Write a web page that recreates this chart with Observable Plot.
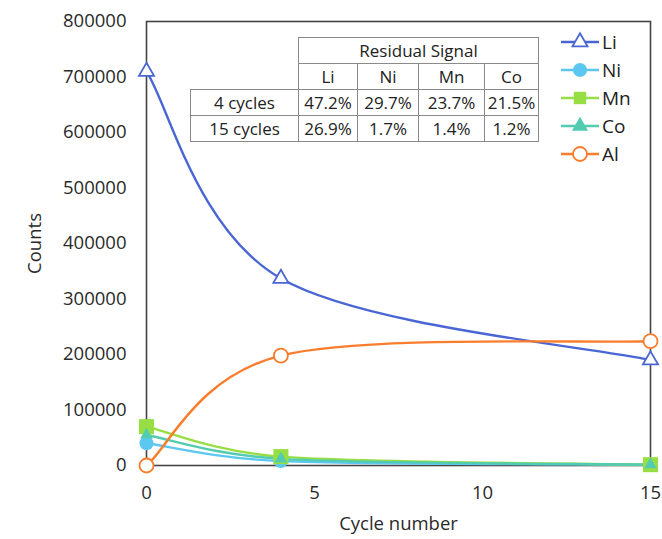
<!DOCTYPE html>
<html>
<head>
<meta charset="utf-8">
<script src="https://cdn.jsdelivr.net/npm/d3@7"></script>
<script src="https://cdn.jsdelivr.net/npm/@observablehq/plot@0.6"></script>
<style>
  html, body { margin: 0; padding: 0; background: #fff; }
  #wrap { position: relative; width: 662px; height: 539px; font-family: "Open Sans", sans-serif; color: #333; }
  #tbl { position: absolute; left: 190px; top: 37px; border-collapse: collapse; font-size: 17px; color: #222; }
  #tbl td { border: 1px solid #8a8a8a; padding: 0; text-align: center; line-height: 24px; height: 25px; background: #fff; white-space: nowrap; }
  #tbl td.blank { border: none; background: transparent; }
  #legend { position: absolute; left: 560px; top: 28px; font-size: 19px; color: #222; }
  #legend .row { display: flex; align-items: center; height: 28px; }
  #legend svg { display: block; margin-right: 2px; }
</style>
</head>
<body>
<div id="wrap"></div>
<script>
// ---- data ----
const cycles = [0, 4, 15];
const seriesNames = ["Li", "Ni", "Mn", "Co", "Al"];
const liCounts = [710000, 337000, 190000];
const niCounts = [40000, 8000, 1500];
const mnCounts = [70000, 16000, 1500];
const coCounts = [55000, 12000, 1500];
const alCounts = [0, 198000, 224000];
const yTicks = [0, 100000, 200000, 300000, 400000, 500000, 600000, 700000, 800000];
const xTicks = [0, 5, 10, 15];

const tableTitle = "Residual Signal";
const tableCols = ["Li", "Ni", "Mn", "Co"];
const tableRows = ["4 cycles", "15 cycles"];
const residual4 = ["47.2%", "29.7%", "23.7%", "21.5%"];
const residual15 = ["26.9%", "1.7%", "1.4%", "1.2%"];

// ---- styles ----
const colors = {Li: "#4a66d4", Ni: "#5cc8f2", Mn: "#97de45", Co: "#52cbb0", Al: "#f97d2c"};
const symbols = {Li: "triangle", Ni: "circle", Mn: "square", Co: "triangle2", Al: "circle"};
const filled = {Li: false, Ni: true, Mn: true, Co: true, Al: false};
const sizes = {Li: 5.6, Ni: 7, Mn: 8.5, Co: 6, Al: 7};

// Spreadsheet-style smoothed line (Bezier with 1/6 tangents, limited on short segments)
function SmoothCurve(context) { this._context = context; }
SmoothCurve.prototype = {
  areaStart() { this._line = 0; },
  areaEnd() { this._line = NaN; },
  lineStart() { this._pts = []; },
  point(x, y) { this._pts.push([+x, +y]); },
  lineEnd() {
    const p = this._pts, n = p.length, c = this._context;
    if (n) {
      if (this._line) c.lineTo(p[0][0], p[0][1]); else c.moveTo(p[0][0], p[0][1]);
      const dist = (a, b) => Math.hypot(b[0] - a[0], b[1] - a[1]);
      for (let i = 0; i < n - 1; i++) {
        const p0 = p[i - 1] || p[i], p1 = p[i], p2 = p[i + 1], p3 = p[i + 2] || p[i + 1];
        const d12 = dist(p1, p2), d02 = dist(p0, p2), d13 = dist(p1, p3);
        let f1 = 1 / 6, f2 = 1 / 6;
        if (d02 / 6 >= d12 / 2 && d02 > 0) f1 = d12 / d02 / 2;
        if (d13 / 6 >= d12 / 2 && d13 > 0) f2 = d12 / d13 / 2;
        c.bezierCurveTo(
          p1[0] + (p2[0] - p0[0]) * f1, p1[1] + (p2[1] - p0[1]) * f1,
          p2[0] - (p3[0] - p1[0]) * f2, p2[1] - (p3[1] - p1[1]) * f2,
          p2[0], p2[1]);
      }
    }
    this._line = 1 - this._line;
  }
};
const smooth = context => new SmoothCurve(context);

const countsBy = {Li: liCounts, Ni: niCounts, Mn: mnCounts, Co: coCounts, Al: alCounts};
const data = seriesNames.flatMap(s => cycles.map((c, i) => ({series: s, cycle: c, count: countsBy[s][i]})));

const marks = [Plot.frame({stroke: "#444", strokeWidth: 1.6})];
for (const s of seriesNames) {
  const d = data.filter(r => r.series === s);
  marks.push(Plot.line(d, {x: "cycle", y: "count", stroke: colors[s], strokeWidth: 2.4, curve: smooth}));
}
for (const s of seriesNames) {
  const d = data.filter(r => r.series === s);
  marks.push(Plot.dot(d, {
    x: "cycle", y: "count", symbol: () => symbols[s], r: sizes[s],
    fill: filled[s] ? colors[s] : "white",
    stroke: filled[s] ? "none" : colors[s], strokeWidth: 1.8
  }));
}

const chart = Plot.plot({
  width: 662, height: 539,
  marginLeft: 146, marginRight: 12, marginTop: 21, marginBottom: 74,
  style: {fontFamily: "Open Sans, sans-serif", fontSize: "18.5px", color: "#2a2a2a", background: "white"},
  symbol: {type: "identity"},
  x: {domain: [0, 15], ticks: xTicks, tickSize: 0, tickPadding: 20, label: "Cycle number", labelAnchor: "center", labelOffset: 64, labelArrow: false},
  y: {domain: [0, 800000], ticks: yTicks, tickSize: 0, tickPadding: 20, tickFormat: d => String(d), label: "Counts", labelAnchor: "center", labelOffset: 119, labelArrow: false},
  marks
});

const wrap = document.getElementById("wrap");
wrap.appendChild(chart);

// ---- table overlay ----
const tbl = document.createElement("table");
tbl.id = "tbl";
const widths = [108, 59, 61, 66, 54];
let html = "<colgroup>" + widths.map(w => `<col style="width:${w}px">`).join("") + "</colgroup>";
html += `<tr><td class="blank"></td><td colspan="4">${tableTitle}</td></tr>`;
html += `<tr><td class="blank"></td>${tableCols.map(c => `<td>${c}</td>`).join("")}</tr>`;
html += `<tr><td>${tableRows[0]}</td>${residual4.map(v => `<td>${v}</td>`).join("")}</tr>`;
html += `<tr><td>${tableRows[1]}</td>${residual15.map(v => `<td>${v}</td>`).join("")}</tr>`;
tbl.innerHTML = html;
tbl.style.tableLayout = "fixed";
tbl.style.width = d3.sum(widths) + "px";
wrap.appendChild(tbl);

// ---- legend overlay ----
const leg = document.createElement("div");
leg.id = "legend";
for (const s of seriesNames) {
  const row = document.createElement("div");
  row.className = "row";
  const svg = d3.create("svg").attr("width", 40).attr("height", 24);
  svg.append("line").attr("x1", 1).attr("x2", 39).attr("y1", 12).attr("y2", 12).attr("stroke", colors[s]).attr("stroke-width", 2.4);
  const symType = {triangle: d3.symbolTriangle, triangle2: d3.symbolTriangle, circle: d3.symbolCircle, square: d3.symbolSquare}[symbols[s]];
  const r = Math.min(sizes[s], 7);
  svg.append("path").attr("d", d3.symbol(symType, Math.PI * r * r)()).attr("transform", "translate(20,12)")
    .attr("fill", filled[s] ? colors[s] : "white").attr("stroke", filled[s] ? "none" : colors[s]).attr("stroke-width", 1.8);
  row.appendChild(svg.node());
  const t = document.createElement("span");
  t.textContent = s;
  row.appendChild(t);
  leg.appendChild(row);
}
wrap.appendChild(leg);
</script>
</body>
</html>
